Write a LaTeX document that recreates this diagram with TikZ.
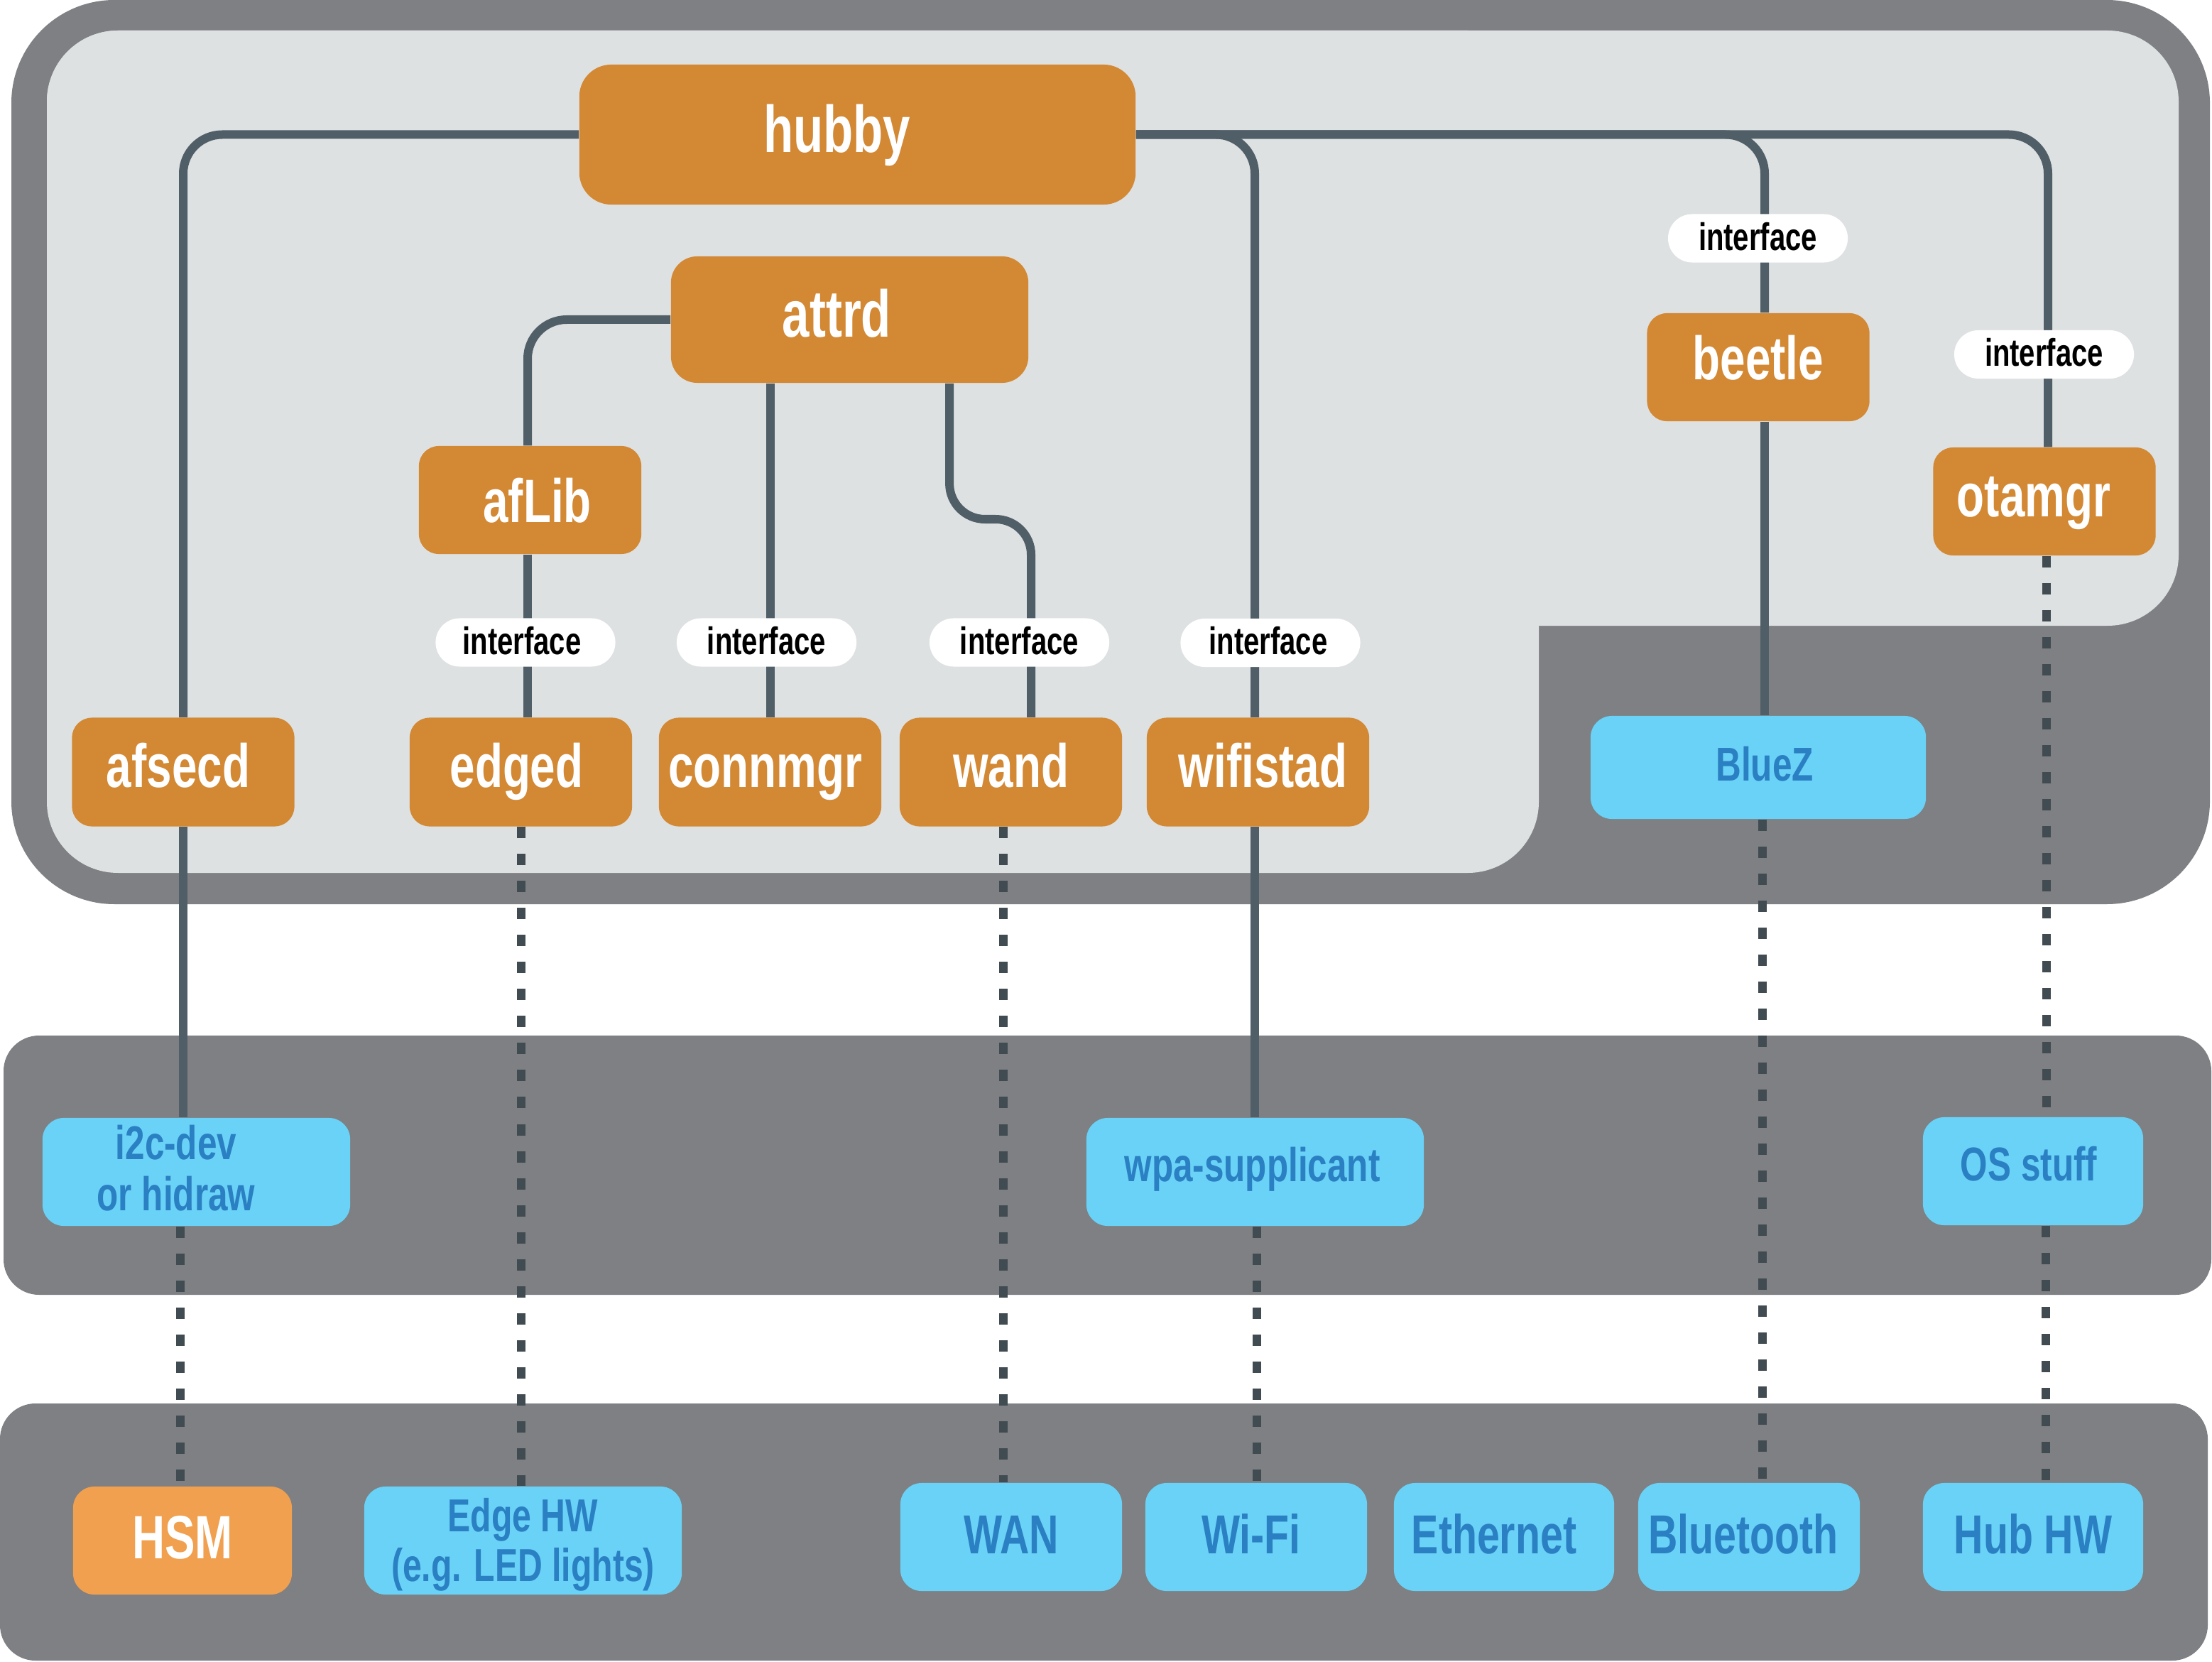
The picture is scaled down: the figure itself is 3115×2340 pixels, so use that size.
\documentclass[tikz,border=0pt]{standalone}
\usepackage{fontspec}
\newfontfamily\cf{Liberation Sans}[FakeStretch=0.74]
\usetikzlibrary{calc}
\definecolor{orng}{HTML}{D38834}
\definecolor{horng}{HTML}{F0A04F}
\definecolor{bfill}{HTML}{69D2F6}
\definecolor{btext}{HTML}{2A80C2}
\definecolor{panel}{HTML}{7E8083}
\definecolor{lightp}{HTML}{DEE1E2}
\definecolor{conncol}{HTML}{4F5E67}
\definecolor{dashcol}{HTML}{414C52}
\pgfdeclarelayer{back}
\pgfdeclarelayer{lines}
\pgfsetlayers{back,lines,main}
\tikzset{
  obox/.style={rectangle, fill=orng, text=white, rounded corners=0.28cm, inner sep=0pt,
    minimum width=3.13cm, minimum height=1.53cm,
    font=\cf\bfseries\fontsize{24.5}{28}\selectfont, text height=18.7pt, text depth=6.7pt},
  bigbox/.style={font=\cf\bfseries\fontsize{26.5}{30}\selectfont, text height=20.8pt, text depth=6.8pt},
  pill/.style={rectangle, fill=white, text=black, rounded corners=0.34cm, inner sep=0pt,
    minimum width=2.53cm, minimum height=0.68cm,
    font=\cf\bfseries\fontsize{15.4}{17}\selectfont, text height=12.8pt, text depth=3.2pt},
  bbox/.style={rectangle, fill=bfill, text=btext, rounded corners=0.3cm, inner sep=0pt,
    minimum height=1.52cm,
    font=\cf\bfseries\fontsize{19}{20.5}\selectfont, text height=13.7pt, text depth=6.1pt},
  bbig/.style={rectangle, fill=bfill, text=btext, rounded corners=0.3cm, inner sep=0pt,
    minimum width=3.12cm, minimum height=1.52cm,
    font=\cf\bfseries\fontsize{22}{24}\selectfont, text height=18.1pt, text depth=4.7pt},
  btxt/.style={text=btext, inner sep=0pt, align=center, font=\cf\bfseries\fontsize{19}{20.5}\selectfont},
  hbox/.style={rectangle, fill=horng, text=white, rounded corners=0.3cm, inner sep=0pt,
    minimum width=3.08cm, minimum height=1.52cm,
    font=\cf\bfseries\fontsize{24.5}{28}\selectfont, text height=19.9pt, text depth=5.5pt},
  conn/.style={draw=conncol, line width=0.12cm, rounded corners=0.55cm},
  dsh/.style={draw=dashcol, line width=0.12cm, dash pattern=on 0.16cm off 0.22cm},
}
\begin{document}
\begin{tikzpicture}[x=0.01cm, y=-0.01cm]
\useasboundingbox (0,0) rectangle (3115,2340);
\begin{pgfonlayer}{back}
  \fill[white] (0,0) rectangle (3115,2340);
  \fill[panel, rounded corners=1.45cm] (16,0) rectangle (3112,1273);
  \fill[lightp, rounded corners=1cm] (66,43) rectangle (3068,881);
  \fill[lightp, rounded corners=1cm] (66,43) rectangle (2167,1229);
  \fill[panel, rounded corners=0.5cm] (5,1458) rectangle (3114,1823);
  \fill[panel, rounded corners=0.5cm] (0,1976) rectangle (3109,2338);
\end{pgfonlayer}

% orange nodes
\node[obox, bigbox, minimum width=7.83cm, minimum height=1.97cm, rounded corners=0.45cm] (hubby) at (1207.5,189.5) {\hspace*{-0.58cm}hubby};
\node[obox, bigbox, minimum width=5.03cm, minimum height=1.78cm, rounded corners=0.37cm] (attrd) at (1196.5,450) {\hspace*{-0.36cm}attrd};
\node[obox, minimum height=1.52cm, text height=21.6pt, text depth=3.8pt] (afLib) at (746.5,704) {\hspace*{0.2cm}afLib};
\node[obox, minimum height=1.52cm, text height=17.6pt, text depth=7.8pt] (beetle) at (2476,517) {beetle};
\node[obox, minimum height=1.52cm] (otamgr) at (2879,706) {\hspace*{-0.3cm}otamgr};
\node[obox] (afsecd) at (258,1087) {\hspace*{-0.14cm}afsecd};
\node[obox] (edged) at (733.5,1087) {\hspace*{-0.12cm}edged};
\node[obox] (connmgr) at (1084.5,1087) {\hspace*{-0.14cm}connmgr};
\node[obox] (wand) at (1423.5,1087) {wand};
\node[obox] (wifistad) at (1771.5,1087) {\hspace*{0.14cm}wifistad};
\node[bbox, minimum width=4.72cm, minimum height=1.45cm, text height=15.4pt, text depth=4.4pt] (bluez) at (2476,1080.5) {\hspace*{0.18cm}BlueZ};

% interface pills
\node[pill] (ifbeetle) at (2475.5,335.5) {interface};
\node[pill] (ifota) at (2878.5,499) {interface};
\node[pill] (ifedged) at (740,904.5) {\hspace*{-0.1cm}interface};
\node[pill] (ifconn) at (1079.5,904.5) {interface};
\node[pill] (ifwand) at (1435.5,904.5) {interface};
\node[pill] (ifwifi) at (1789,905) {\hspace*{-0.06cm}interface};

% middle band
\node[bbox, minimum width=4.33cm] (i2c) at (276.5,1650) {};
\node[btxt] (i2ctext) at (248,1645) {i2c-dev\\or hidraw};
\node[bbox, minimum width=4.75cm] (wpa) at (1767.5,1650) {\hspace*{-0.08cm}wpa-supplicant};
\node[bbox, minimum width=3.10cm] (osstuff) at (2863,1649) {\hspace*{-0.12cm}OS stuff};

% bottom band
\node[hbox] (hsm) at (257,2169) {HSM};
\node[rectangle, fill=bfill, rounded corners=0.3cm, minimum width=4.47cm, minimum height=1.52cm] (edgehw) at (736.5,2169) {};
\node[btxt, font=\cf\bfseries\fontsize{18.5}{20}\selectfont] (edgehwtext) at (736.5,2175) {Edge HW\\(e.g. LED lights)};
\node[bbig] (wan) at (1424,2164) {WAN};
\node[bbig] (wifi) at (1769,2164) {\hspace*{-0.14cm}Wi-Fi};
\node[bbig, minimum width=3.10cm] (ethernet) at (2118,2164) {\hspace*{-0.28cm}Ethernet};
\node[bbig] (bluetooth) at (2463,2164) {\hspace*{-0.16cm}Bluetooth};
\node[bbig, minimum width=3.10cm] (hubhw) at (2863,2164) {Hub HW};

\begin{pgfonlayer}{lines}
  % solid connectors
  \draw[conn] (hubby.west) -| (afsecd.north);
  \draw[conn] (hubby.east) -| ([xshift=-0.045cm]wifistad.north);
  \draw[conn] (hubby.east) -| ([xshift=0.09cm]beetle.north);
  \draw[conn] (hubby.east) -| ([xshift=0.05cm]otamgr.north);
  \draw[conn] (attrd.west) -| ([xshift=-0.035cm]afLib.north);
  \draw[conn] ([xshift=-0.035cm]afLib.south) -- ([xshift=-0.035cm]afLib.south |- edged.north);
  \draw[conn] (connmgr.north |- attrd.south) -- (connmgr.north);
  \coordinate (wbend) at (1395,731);
  \draw[conn, rounded corners=0.5cm] ([xshift=1.405cm]attrd.south) |- ([xshift=0.285cm]wand.north |- wbend) -- ([xshift=0.285cm]wand.north);
  \draw[conn] (afsecd.south) -- (afsecd.south |- i2c.north);
  \draw[conn] ([xshift=-0.045cm]wifistad.south) -- ([xshift=-0.045cm]wifistad.south |- wpa.north);
  \draw[conn] ([xshift=0.09cm]beetle.south) -- ([xshift=0.09cm]beetle.south |- bluez.north);
  % dashed connectors
  \draw[dsh] ([xshift=0.03cm]otamgr.south) -- ([xshift=0.03cm]otamgr.south |- osstuff.north);
  \draw[dsh] ([xshift=0.18cm]osstuff.south) -- ([xshift=0.18cm]osstuff.south |- hubhw.north);
  \draw[dsh] (edged.south) -- (edged.south |- edgehw.north);
  \draw[dsh] ([xshift=-0.105cm]wand.south) -- ([xshift=-0.105cm]wand.south |- wan.north);
  \draw[dsh] ([xshift=0.06cm]bluez.south) -- ([xshift=0.06cm]bluez.south |- bluetooth.north);
  \draw[dsh] ([xshift=0.025cm]wpa.south) -- ([xshift=0.025cm]wpa.south |- wifi.north);
  \draw[dsh] ([xshift=-0.225cm]i2c.south) -- ([xshift=-0.225cm]i2c.south |- hsm.north);
\end{pgfonlayer}
\end{tikzpicture}
\end{document}
